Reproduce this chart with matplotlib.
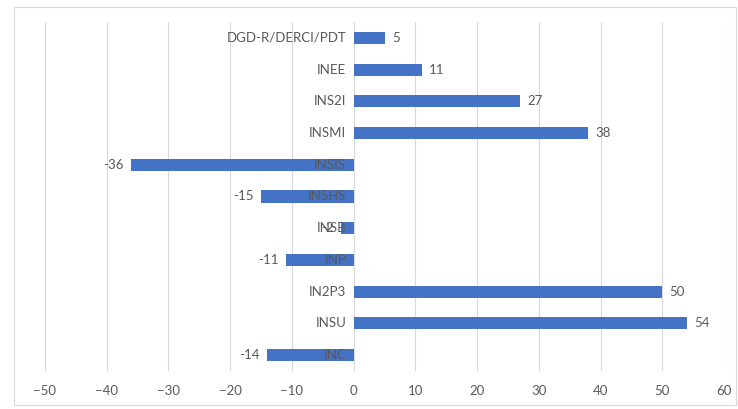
import numpy as np
import matplotlib.pyplot as plt
from matplotlib.patches import Rectangle

# donnees (du bas vers le haut)
labels = ["INC", "INSU", "IN2P3", "INP", "INSB", "INSHS", "INSIS", "INSMI", "INS2I", "INEE", "DGD-R/DERCI/PDT"]
valeurs = [-14, 54, 50, -11, -2, -15, -36, 38, 27, 11, 5]
xticks = [-50, -40, -30, -20, -10, 0, 10, 20, 30, 40, 50, 60]

plt.rcParams['font.family'] = ['Lato', 'DejaVu Sans']
gris = '#595959'

fig = plt.figure(figsize=(7.38, 4.09), dpi=100)
# cadre exterieur
fig.patches.append(Rectangle((14/738, 4/409), 722/738, 398/409, transform=fig.transFigure,
                             fill=False, edgecolor='#d9d9d9', linewidth=0.8))
ax = fig.add_axes([45/738, 38/409, 679/738, 349/409])

y = np.arange(len(labels))
ax.barh(y, valeurs, height=0.38, color='#4472C4', zorder=2)

for i, (lab, v) in enumerate(zip(labels, valeurs)):
    # etiquette de categorie pres de l'axe zero
    ax.text(-1.2, i, lab, ha='right', va='center', fontsize=9.5, color=gris, zorder=3)
    if v >= 0:
        ax.text(v + 1.2, i, str(v), ha='left', va='center', fontsize=9.5, color=gris, zorder=3)
    else:
        ax.text(v - 1.2, i, str(v), ha='right', va='center', fontsize=9.5, color=gris, zorder=3)

ax.set_xlim(-50, 60)
ax.set_ylim(-0.5, len(labels) - 0.5)
ax.set_xticks(xticks)
ax.set_yticks([])
ax.tick_params(axis='x', length=0, labelsize=9.5, labelcolor=gris, pad=10)
ax.grid(axis='x', color='#d9d9d9', linewidth=0.8, zorder=0)
for s in ax.spines.values():
    s.set_visible(False)

fig.savefig('out.png', dpi=100)
